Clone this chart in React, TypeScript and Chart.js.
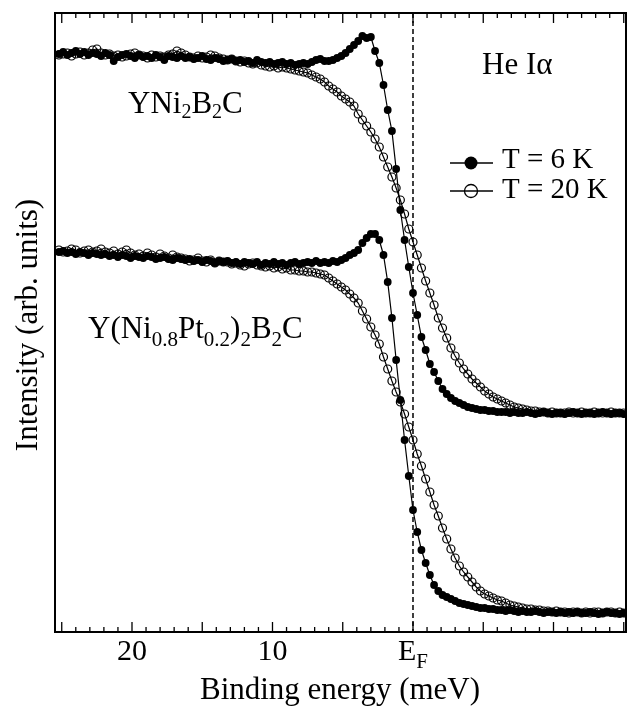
import React, { useEffect, useRef } from 'react';
import { Chart, registerables } from 'chart.js';

Chart.register(...registerables);

// Binding energy grid (meV), reversed axis: left = high binding energy
const energy = [
  25.2, 24.9, 24.6, 24.3, 24.0, 23.7, 23.4, 23.1, 22.8, 22.5,
  22.2, 21.9, 21.6, 21.3, 21.0, 20.7, 20.4, 20.1, 19.8, 19.5,
  19.2, 18.9, 18.6, 18.3, 18.0, 17.7, 17.4, 17.1, 16.8, 16.5,
  16.2, 15.9, 15.6, 15.3, 15.0, 14.7, 14.4, 14.1, 13.8, 13.5,
  13.2, 12.9, 12.6, 12.3, 12.0, 11.7, 11.4, 11.1, 10.8, 10.5,
  10.2, 9.9, 9.6, 9.3, 9.0, 8.7, 8.4, 8.1, 7.8, 7.5,
  7.2, 6.9, 6.6, 6.3, 6.0, 5.7, 5.4, 5.1, 4.8, 4.5,
  4.2, 3.9, 3.6, 3.3, 3.0, 2.7, 2.4, 2.1, 1.8, 1.5,
  1.2, 0.9, 0.6, 0.3, 0.0, -0.3, -0.6, -0.9, -1.2, -1.5,
  -1.8, -2.1, -2.4, -2.7, -3.0, -3.3, -3.6, -3.9, -4.2, -4.5,
  -4.8, -5.1, -5.4, -5.7, -6.0, -6.3, -6.6, -6.9, -7.2, -7.5,
  -7.8, -8.1, -8.4, -8.7, -9.0, -9.3, -9.6, -9.9, -10.2, -10.5,
  -10.8, -11.1, -11.4, -11.7, -12.0, -12.3, -12.6, -12.9, -13.2, -13.5,
  -13.8, -14.1, -14.4, -14.7, -15.0,
];

// YNi2B2C, T = 6 K
const top6K = [
  578, 580, 577, 579, 581, 578, 580, 577, 579, 578,
  576, 579, 577, 571, 575, 577, 578, 576, 574, 577,
  575, 576, 574, 577, 575, 572, 576, 575, 574, 576,
  574, 575, 573, 574, 576, 573, 572, 574, 573, 571,
  572, 573, 571, 572, 570, 571, 569, 572, 570, 569,
  570, 568, 569, 570, 568, 569, 567, 568, 569, 568,
  570, 572, 573, 571, 571, 572, 574, 576, 579, 583,
  587, 591, 596, 594, 595, 581, 569, 547, 522, 501,
  463, 422, 392, 365, 339, 317, 295, 282, 268, 260,
  251, 243, 238, 234, 231, 229, 227, 225, 224, 223,
  222, 222, 221, 221, 220, 220, 220, 219, 220, 219,
  219, 220, 219, 218, 219, 220, 219, 218, 219, 219,
  218, 219, 220, 219, 218, 219, 219, 218, 219, 220,
  219, 218, 219, 219, 218,
];

// YNi2B2C, T = 20 K
const top20K = [
  577, 578, 579, 576, 578, 580, 577, 579, 582, 583,
  579, 577, 578, 576, 577, 575, 576, 578, 579, 577,
  576, 574, 577, 575, 576, 575, 577, 578, 581, 579,
  577, 575, 574, 576, 574, 575, 577, 576, 574, 573,
  572, 573, 571, 570, 571, 569, 568, 569, 567, 566,
  565, 566, 564, 565, 564, 563, 562, 561, 560, 559,
  557, 555, 553, 550, 546, 543, 540, 536, 533, 530,
  526, 518, 512, 506, 500, 493, 485, 475, 465, 455,
  444, 432, 418, 403, 390, 377, 364, 351, 339, 327,
  314, 304, 294, 284, 276, 269, 263, 258, 253, 249,
  245, 241, 238, 235, 233, 231, 229, 227, 225, 224,
  223, 222, 221, 221, 220, 220, 219, 220, 219, 219,
  219, 220, 219, 219, 220, 219, 219, 220, 219, 219,
  219, 220, 219, 219, 219,
];

// Y(Ni0.8Pt0.2)2B2C, T = 6 K
const bottom6K = [
  380, 381, 379, 380, 378, 380, 379, 377, 379, 378,
  377, 378, 376, 377, 375, 377, 376, 374, 376, 375,
  374, 376, 375, 373, 374, 375, 373, 372, 374, 373,
  372, 373, 371, 372, 370, 372, 371, 369, 371, 370,
  371, 369, 370, 368, 370, 369, 368, 370, 367, 369,
  368, 370, 368, 369, 367, 369, 370, 368, 369, 370,
  369, 371, 369, 370, 369, 371, 370, 372, 374, 377,
  379, 382, 389, 394, 398, 398, 392, 377, 350, 314,
  272, 232, 192, 156, 122, 100, 82, 69, 57, 47,
  41, 37, 35, 33, 31, 29, 28, 27, 26, 25,
  24, 24, 23, 23, 22, 22, 21, 22, 21, 20,
  21, 20, 20, 21, 20, 19, 20, 20, 19, 20,
  19, 20, 19, 20, 19, 19, 20, 19, 18, 19,
  20, 19, 19, 18, 19,
];

// Y(Ni0.8Pt0.2)2B2C, T = 20 K
const bottom20K = [
  382, 380, 381, 383, 382, 379, 381, 382, 380, 381,
  383, 380, 379, 381, 378, 380, 382, 379, 377, 378,
  376, 379, 377, 375, 378, 376, 374, 377, 375, 374,
  373, 371, 372, 374, 371, 370, 372, 369, 371, 370,
  370, 368, 369, 367, 366, 368, 369, 367, 366, 365,
  366, 364, 365, 363, 364, 362, 362, 361, 361, 360,
  360, 359, 358, 357, 354, 351, 348, 345, 342, 338,
  334, 329, 321, 313, 305, 297, 288, 275, 263, 251,
  240, 230, 218, 205, 192, 178, 166, 153, 140, 127,
  116, 104, 93, 83, 74, 66, 60, 55, 50, 45,
  41, 38, 36, 34, 32, 31, 29, 27, 26, 25,
  24, 23, 23, 22, 22, 21, 21, 20, 21, 20,
  20, 19, 20, 20, 19, 20, 19, 20, 20, 19,
  20, 20, 19, 20, 19,
];

const xRange = [-15.16, 25.48];
const yRange = [0, 619];
const labeledTicks = [20, 10, 0];
const tickTexts = ['20', '10', 'E'];
const legendLabels = ['T = 6 K', 'T = 20 K'];

const FONT = '"Liberation Serif", "Times New Roman", serif';

function pts(ys: number[]) {
  return ys.map((y, i) => ({ x: energy[i], y }));
}

function drawRich(
  ctx: CanvasRenderingContext2D,
  x: number,
  y: number,
  parts: [string, boolean][],
  size: number,
  subSize: number,
  subDy: number
) {
  let cx = x;
  for (const [t, sub] of parts) {
    ctx.font = `${sub ? subSize : size}px ${FONT}`;
    ctx.fillText(t, cx, sub ? y + subDy : y);
    cx += ctx.measureText(t).width;
  }
}

const decorPlugin = {
  id: 'decor',
  beforeDatasetsDraw(chart: any) {
    const ctx = chart.ctx as CanvasRenderingContext2D;
    const { top, bottom } = chart.chartArea;
    const x0 = chart.scales.x.getPixelForValue(0);
    ctx.save();
    ctx.strokeStyle = '#000';
    ctx.lineWidth = 1.5;
    ctx.setLineDash([5, 3]);
    ctx.beginPath();
    ctx.moveTo(x0, top);
    ctx.lineTo(x0, bottom);
    ctx.stroke();
    ctx.restore();
  },
  afterDraw(chart: any) {
    const ctx = chart.ctx as CanvasRenderingContext2D;
    const { left, right, top, bottom } = chart.chartArea;
    const xs = chart.scales.x;
    ctx.save();
    ctx.strokeStyle = '#000';
    ctx.fillStyle = '#000';
    ctx.lineWidth = 2;
    ctx.strokeRect(left, top, right - left, bottom - top);

    // inward ticks on top and bottom
    ctx.lineWidth = 1.3;
    for (let v = -15; v <= 25; v++) {
      const px = xs.getPixelForValue(v);
      if (px < left || px > right) continue;
      const len = v % 5 === 0 ? 10 : 5;
      ctx.beginPath();
      ctx.moveTo(px, bottom);
      ctx.lineTo(px, bottom - len);
      ctx.moveTo(px, top);
      ctx.lineTo(px, top + len);
      ctx.stroke();
    }

    // tick labels
    ctx.textBaseline = 'alphabetic';
    labeledTicks.forEach((v, i) => {
      const px = xs.getPixelForValue(v);
      if (tickTexts[i] === 'E') {
        ctx.font = `30px ${FONT}`;
        const wE = ctx.measureText('E').width;
        ctx.font = `21px ${FONT}`;
        const wF = ctx.measureText('F').width;
        const sx = px - (wE + wF) / 2;
        drawRich(ctx, sx, 660, [['E', false], ['F', true]], 30, 21, 8);
      } else {
        ctx.font = `30px ${FONT}`;
        ctx.textAlign = 'center';
        ctx.fillText(tickTexts[i], px, 660);
        ctx.textAlign = 'left';
      }
    });

    // axis titles
    ctx.font = `31px ${FONT}`;
    ctx.textAlign = 'center';
    ctx.fillText('Binding energy (meV)', 340, 699);
    ctx.save();
    ctx.translate(37, 325);
    ctx.rotate(-Math.PI / 2);
    ctx.fillText('Intensity (arb. units)', 0, 0);
    ctx.restore();
    ctx.textAlign = 'left';

    // annotations
    ctx.font = `31px ${FONT}`;
    ctx.fillText('He I\u03b1', 482, 74);
    drawRich(ctx, 128, 113, [['YNi', false], ['2', true], ['B', false], ['2', true], ['C', false]], 31, 20, 5);
    drawRich(
      ctx,
      88,
      338,
      [['Y(Ni', false], ['0.8', true], ['Pt', false], ['0.2', true], [')', false], ['2', true], ['B', false], ['2', true], ['C', false]],
      31,
      21,
      8
    );

    // legend
    const rows = [163, 191];
    const textY = [168, 198];
    rows.forEach((ly, i) => {
      ctx.lineWidth = 1.3;
      ctx.beginPath();
      ctx.moveTo(450, ly);
      ctx.lineTo(493, ly);
      ctx.stroke();
      ctx.beginPath();
      ctx.arc(471, ly, 6.5, 0, Math.PI * 2);
      if (i === 0) ctx.fill();
      else ctx.stroke();
      ctx.font = `29px ${FONT}`;
      ctx.fillText(legendLabels[i], 502, textY[i]);
    });
    ctx.restore();
  },
};

export default function App() {
  const ref = useRef<HTMLCanvasElement | null>(null);
  useEffect(() => {
    if (!ref.current) return;
    const filled = {
      borderColor: '#000',
      borderWidth: 1.2,
      pointRadius: 3.9,
      pointBackgroundColor: '#000',
      pointBorderColor: '#000',
      pointBorderWidth: 0,
      tension: 0,
      fill: false,
      order: 0,
    };
    const open = {
      borderColor: '#000',
      borderWidth: 1.2,
      pointRadius: 4,
      pointBackgroundColor: 'rgba(255,255,255,0)',
      pointBorderColor: '#000',
      pointBorderWidth: 1.2,
      tension: 0,
      fill: false,
      order: 1,
    };
    const chart = new Chart(ref.current, {
      type: 'line',
      data: {
        datasets: [
          { label: 'YNi2B2C T = 20 K', data: pts(top20K), ...open },
          { label: 'Y(Ni0.8Pt0.2)2B2C T = 20 K', data: pts(bottom20K), ...open },
          { label: 'YNi2B2C T = 6 K', data: pts(top6K), ...filled },
          { label: 'Y(Ni0.8Pt0.2)2B2C T = 6 K', data: pts(bottom6K), ...filled },
        ] as any,
      },
      options: {
        animation: false,
        responsive: false,
        devicePixelRatio: 1,
        parsing: false as any,
        layout: { padding: { left: 55, right: 7, top: 13, bottom: 74 } },
        plugins: { legend: { display: false }, tooltip: { enabled: false } },
        scales: {
          x: { type: 'linear', reverse: true, min: xRange[0], max: xRange[1], display: false },
          y: { type: 'linear', min: yRange[0], max: yRange[1], display: false },
        },
      },
      plugins: [decorPlugin],
    });
    return () => chart.destroy();
  }, []);
  return (
    <div style={{ position: 'absolute', left: 0, top: 0, width: 633, height: 706, background: '#fff' }}>
      <canvas ref={ref} width={633} height={706} style={{ display: 'block' }} />
    </div>
  );
}
